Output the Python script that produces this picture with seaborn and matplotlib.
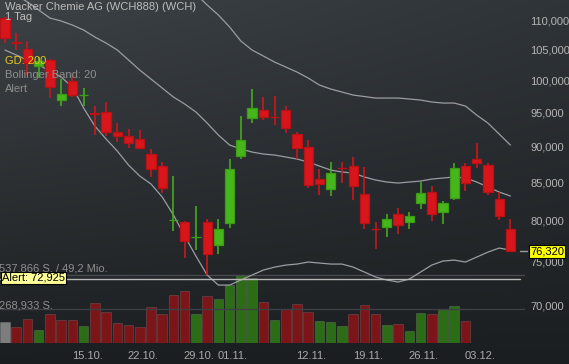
import numpy as np
import pandas as pd
import seaborn as sns
import matplotlib.pyplot as plt
from matplotlib.colors import to_rgb
from matplotlib.lines import Line2D
from matplotlib.ticker import FuncFormatter, NullLocator

# daily candles, 04.10. - 06.12.
opens = [110300, 106150, 105050, 102270, 103230, 96890, 99860, 97600, 94900, 95060,
         92090, 91510, 91080, 88950, 87270, 80050, 79850, 77950, 79850, 76980,
         79720, 88660, 94160, 95370, 94380, 95370, 91800, 89970, 85490, 84140,
         87050, 87270, 83470, 79000, 79210, 80860, 79850, 82290, 83740, 81130,
         82940, 87270, 88230, 87400, 82810, 78960]
highs = [110500, 107800, 106390, 103730, 103400, 100180, 101130, 98760, 95980, 96590,
         93420, 92530, 92380, 89690, 87820, 85890, 80000, 81890, 80230, 80230,
         88230, 94470, 98590, 97350, 97510, 95980, 92090, 90940, 86850, 87820,
         87820, 88520, 87130, 79850, 80860, 81630, 81130, 85080, 84540, 82540,
         87680, 87680, 90510, 87680, 83740, 80230]
lows = [106100, 104950, 100810, 100330, 97200, 95980, 97350, 95980, 91670, 91510,
        90650, 89830, 89690, 85760, 83600, 78710, 75420, 76380, 73410, 75900,
        79090, 88230, 93420, 93870, 93130, 91950, 88230, 84270, 83340, 83210,
        84950, 82680, 78960, 76500, 77970, 78340, 78960, 81500, 80000, 79600,
        82680, 83870, 86990, 83340, 80100, 76140]
closes = [106930, 106100, 102750, 103100, 98910, 97820, 97660, 97700, 94700, 92090,
          91510, 90510, 89830, 86850, 84270, 80150, 77470, 78000, 75900, 78960,
          86850, 90940, 95670, 94320, 94300, 92690, 89830, 84670, 84750, 86300,
          86950, 84540, 79720, 78950, 80230, 79470, 80610, 83600, 80860, 82290,
          86990, 84950, 87680, 83740, 80610, 76320]

volume = [166000, 126000, 190000, 105000, 227000, 184000, 179000, 132000, 316000, 245000,
          161000, 140000, 126000, 282000, 229000, 380000, 414000, 229000, 372000, 350000,
          461000, 537866, 514000, 322000, 184000, 266000, 308000, 243000, 177000, 163000,
          137000, 232000, 300000, 232000, 145000, 150000, 97000, 237000, 229000, 269000,
          293000, 174000, 0, 0, 0, 0]
vol_dir = ["flat", "down", "down", "up", "down", "down", "down", "up", "down", "down",
           "down", "down", "down", "down", "down", "down", "down", "up", "down", "up",
           "up", "up", "up", "down", "up", "down", "down", "down", "up", "up",
           "up", "down", "down", "down", "up", "down", "up", "up", "down", "up",
           "up", "down", "flat", "flat", "flat", "flat"]

# Bollinger Band 20
bb_upper = [None] * 16 + [116460, 114630, 112650, 110880, 108790, 106400, 104890, 103900,
                          102910, 102100, 101290, 100330, 99220, 98600, 98130, 97660,
                          97430, 97200, 97200, 97200, 97050, 96890, 96590, 96430,
                          96430, 95970, 94610, 93420, 91800, 90220]
bb_mid = [115730, 114450, 113190, 111760, 110350, 109830, 109130, 108270, 107070, 106060,
          104890, 103240, 101610, 100170, 98750, 97350, 96280, 95070, 93420, 91660,
          90220, 89650, 89220, 88940, 88800, 88520, 88240, 87820, 87260, 86710,
          86440, 86300, 85760, 85350, 85080, 84940, 85080, 85210, 85480, 85620,
          85760, 85620, 85080, 84410, 83740, 83210]
bb_lower = [104890, 104060, 103240, 102420, 101450, 100490, 98910, 95670, 92980, 91080,
            89360, 87400, 85890, 84810, 83080, 80740, 78090, 75650, 73410, 72250,
            72250, 72830, 73410, 73990, 74340, 74580, 74700, 74940, 74820, 74700,
            74700, 74340, 73760, 73180, 72830, 72600, 72940, 73760, 74580, 75060,
            75170, 74940, 75530, 76130, 76620, 76380]

tick_idx = [7, 12, 17, 20, 27, 32, 37, 42]
tick_labels = ["15.10.", "22.10.", "29.10.", "01.11.", "12.11.", "19.11.", "26.11.", "03.12."]
price_ticks = [70000, 75000, 80000, 85000, 90000, 95000, 100000, 105000, 110000]
alert_level = 72925
vol_max = 537866
last_price = closes[-1]

sns.set_style("dark")
plt.rcParams["font.family"] = ["Liberation Sans", "DejaVu Sans"]

W, H = 569, 364
fig = plt.figure(figsize=(W / 100, H / 100), dpi=100)


def px(x, y):
    return x / W, 1 - y / H


# dark gradient background
bg = fig.add_axes([0, 0, 1, 1])
bg.axis("off")
ys = np.linspace(0, 1, H)[:, None, None]
xs = np.linspace(0, 1, W)[None, :, None]
top = np.array(to_rgb("#3d4246")) * (1 - xs) + np.array(to_rgb("#2f3438")) * xs
img = top * (1 - ys) + np.array(to_rgb("#1b1e21")) * ys
bg.imshow(img, aspect="auto", extent=[0, 1, 0, 1])

pos = [0, (H - 343) / H, 525 / W, 343 / H]
xlim = (-0.445, 46.3)
idx = np.arange(len(closes))

# volume pane
ax_v = fig.add_axes(pos)
ax_v.patch.set_alpha(0)
vdf = pd.DataFrame({"idx": idx, "vol": volume, "dir": vol_dir})
sns.barplot(data=vdf, x="idx", y="vol", hue="dir", native_scale=True, width=0.85,
            palette={"down": "#7c1518", "up": "#2d6c17", "flat": "#7d7d7d"},
            saturation=1, errorbar=None, edgecolor=(1, 1, 1, 0.12), linewidth=0.8,
            legend=False, ax=ax_v)
ax_v.axhline(vol_max, color="#464a4e", lw=1)
ax_v.axhline(vol_max / 2, color="#3c4044", lw=1)
ax_v.set_xlim(*xlim)
ax_v.set_ylim(0, vol_max * 343 / 68)
ax_v.axis("off")

# price pane
ax = fig.add_axes(pos)
ax.patch.set_alpha(0)
ax.set_yscale("log")
for band in (bb_upper, bb_mid, bb_lower):
    sns.lineplot(x=idx, y=np.array(band, dtype=float), estimator=None, color="#9a9ea2",
                 lw=0.9, ax=ax, legend=False)

ax.axhline(alert_level, xmax=520 / 525, color="#b8b8b8", lw=1)

o = np.array(opens)
c = np.array(closes)
up = c >= o
colors = np.where(up, "#46b61a", "#d8151a")
edges = np.where(up, "#3c9c15", "#b81216")
ax.vlines(idx, lows, highs, colors=colors, lw=1.1, zorder=3)
ax.bar(idx, c - o, bottom=o, width=0.82, color=colors, edgecolor=edges, linewidth=0.9, zorder=4)

ax.set_xlim(*xlim)
ax.set_ylim(65910, 113550)
ax.yaxis.tick_right()
ax.set_yticks(price_ticks)
ax.yaxis.set_minor_locator(NullLocator())
ax.yaxis.set_major_formatter(FuncFormatter(lambda v, _: f"{v:,.0f}"))
ax.set_xticks([i + 0.3 for i in tick_idx])
ax.set_xticklabels(tick_labels)
ax.tick_params(axis="y", length=0, pad=4, labelsize=8, labelcolor="#b4b4b4")
ax.tick_params(axis="x", length=0, pad=6, labelsize=8, labelcolor="#aaaaaa")
ax.set_xlabel("")
ax.set_ylabel("")
for s in ax.spines.values():
    s.set_visible(False)
ax.grid(False)

# header / legend texts
fig.text(*px(5, 10), "Wacker Chemie AG (WCH888) (WCH)", fontsize=8, color="#bcbcbc", va="baseline")
fig.text(*px(5, 20), "1 Tag", fontsize=8, color="#bcbcbc", va="baseline")
fig.text(*px(5, 64), "GD: 200", fontsize=8, color="#e8c81a", va="baseline")
fig.text(*px(5, 78), "Bollinger Band: 20", fontsize=8, color="#8e8e8e", va="baseline")
fig.text(*px(5, 92), "Alert", fontsize=8, color="#8e8e8e", va="baseline")

fig.text(*px(-1, 271.5), "537,866 S. / 49,2 Mio.", fontsize=8, color="#8e8e8e", va="baseline")
fig.text(*px(-1, 308), "268,933 S.", fontsize=8, color="#8e8e8e", va="baseline")
fig.text(*px(2, 278), f"Alert: {alert_level:,}", fontsize=8, color="black", va="center",
         bbox=dict(boxstyle="square,pad=0.1", fc="#ffff99", ec="black", lw=0.8))

fig.add_artist(Line2D([520 / W, 527 / W], [1 - 251 / H] * 2, color="#9a9a9a", lw=1))
fig.text(*px(547, 251.5), f"{last_price:,}", fontsize=8, color="black", ha="center", va="center",
         bbox=dict(boxstyle="square,pad=0.12", fc="#ffff00", ec="black", lw=0.8))

fig.savefig("out.png", dpi=100)
